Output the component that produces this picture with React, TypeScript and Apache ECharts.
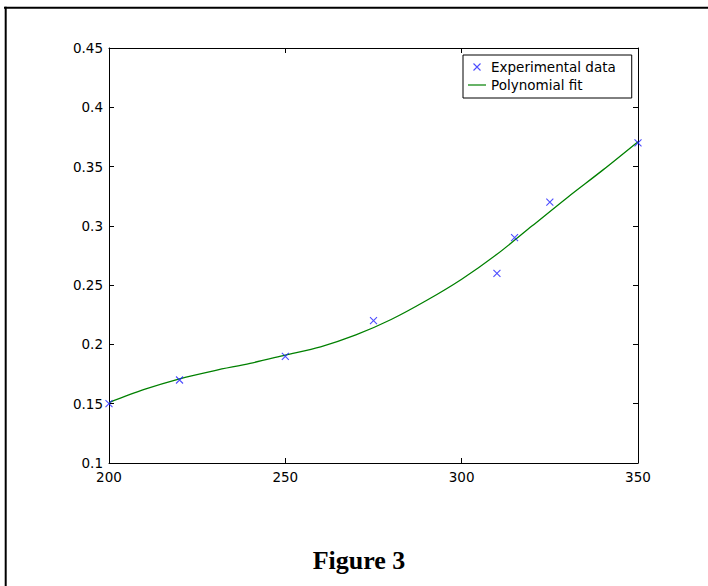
import React, { useEffect, useRef } from "react";
import * as echarts from "echarts";

const expX = [200, 220, 250, 275, 310, 315, 325, 350];
const expY = [0.15, 0.17, 0.19, 0.22, 0.26, 0.29, 0.32, 0.37];

const fitX = [200, 210, 220, 230, 240, 250, 260, 270, 280, 290, 300, 310, 320, 330, 340, 350];
const fitY = [0.151, 0.162, 0.171, 0.178, 0.184, 0.191, 0.198, 0.208, 0.221, 0.237, 0.255, 0.276, 0.3, 0.324, 0.347, 0.371];

const seriesNames = ["Experimental data", "Polynomial fit"];
const figureTitle = "Figure 3";

const X_PATH = "path://M0,0L10,10M10,0L0,10";
const LINE_ICON = "path://M0,0L18,0L18,1.2L0,1.2Z";
const FONT = "DejaVu Sans";

export default function App() {
  const ref = useRef<HTMLDivElement>(null);
  useEffect(() => {
    if (!ref.current) return;
    const chart = echarts.init(ref.current, null, { renderer: "svg" });
    const axisLine = { show: true, lineStyle: { color: "#000", width: 1 } };
    const tick = { show: true, inside: true, length: 5, lineStyle: { color: "#000" } };
    const label = { color: "#000", fontFamily: FONT, fontSize: 13.5 };
    const fmt = (v: number) => String(+v.toFixed(2));
    chart.setOption({
      animation: false,
      backgroundColor: "#fff",
      grid: { left: 109, right: 70, top: 48, bottom: 123, containLabel: false },
      xAxis: [
        {
          type: "value", min: 200, max: 350, interval: 50, position: "bottom",
          axisLine, axisTick: tick, splitLine: { show: false },
          axisLabel: { ...label, margin: 7, formatter: fmt },
        },
        {
          type: "value", min: 200, max: 350, interval: 50, position: "top",
          axisLine, axisTick: tick, splitLine: { show: false },
          axisLabel: { show: false },
        },
      ],
      yAxis: [
        {
          type: "value", min: 0.1, max: 0.45, interval: 0.05, position: "left",
          axisLine, axisTick: tick, splitLine: { show: false },
          axisLabel: { ...label, margin: 6, formatter: fmt },
        },
        {
          type: "value", min: 0.1, max: 0.45, interval: 0.05, position: "right",
          axisLine, axisTick: tick, splitLine: { show: false },
          axisLabel: { show: false },
        },
      ],
      legend: {
        left: 463, top: 55, orient: "vertical",
        backgroundColor: "#fff", borderColor: "#000", borderWidth: 1,
        padding: [5, 16, 6, 5], itemGap: 4, itemWidth: 18, itemHeight: 7,
        textStyle: { color: "#000", fontFamily: FONT, fontSize: 13.5, lineHeight: 14 },
        data: [
          { name: seriesNames[0], icon: X_PATH, itemStyle: { color: "none", borderColor: "#2020ff", borderWidth: 1.1 } },
          { name: seriesNames[1], icon: LINE_ICON, itemStyle: { color: "#008000", borderWidth: 0 } },
        ],
      },
      series: [
        {
          name: seriesNames[1], type: "line", xAxisIndex: 0, yAxisIndex: 0,
          data: fitX.map((x, i) => [x, fitY[i]]),
          showSymbol: false, symbol: "none", smooth: 0.3,
          lineStyle: { color: "#008000", width: 1.3 },
          itemStyle: { color: "#008000" }, z: 2,
        },
        {
          name: seriesNames[0], type: "scatter", xAxisIndex: 0, yAxisIndex: 0,
          data: expX.map((x, i) => [x, expY[i]]),
          symbol: X_PATH, symbolSize: 7,
          itemStyle: { color: "none", borderColor: "#2020ff", borderWidth: 1.1 }, z: 3,
        },
      ],
      graphic: [
        { type: "line", shape: { x1: 4, y1: 7.7, x2: 708, y2: 7.7 }, style: { stroke: "#000", lineWidth: 2 } },
        { type: "line", shape: { x1: 5.7, y1: 6.7, x2: 5.7, y2: 586 }, style: { stroke: "#000", lineWidth: 2 } },
        {
          type: "text", x: 359, y: 560,
          style: {
            text: figureTitle, fill: "#000", align: "center", verticalAlign: "middle",
            font: "bold 26px 'Liberation Serif', 'Times New Roman', serif",
          },
        },
      ],
    });
    return () => chart.dispose();
  }, []);
  return (
    <div
      ref={ref}
      style={{ position: "fixed", left: 0, top: 0, width: 708, height: 586 }}
    />
  );
}
